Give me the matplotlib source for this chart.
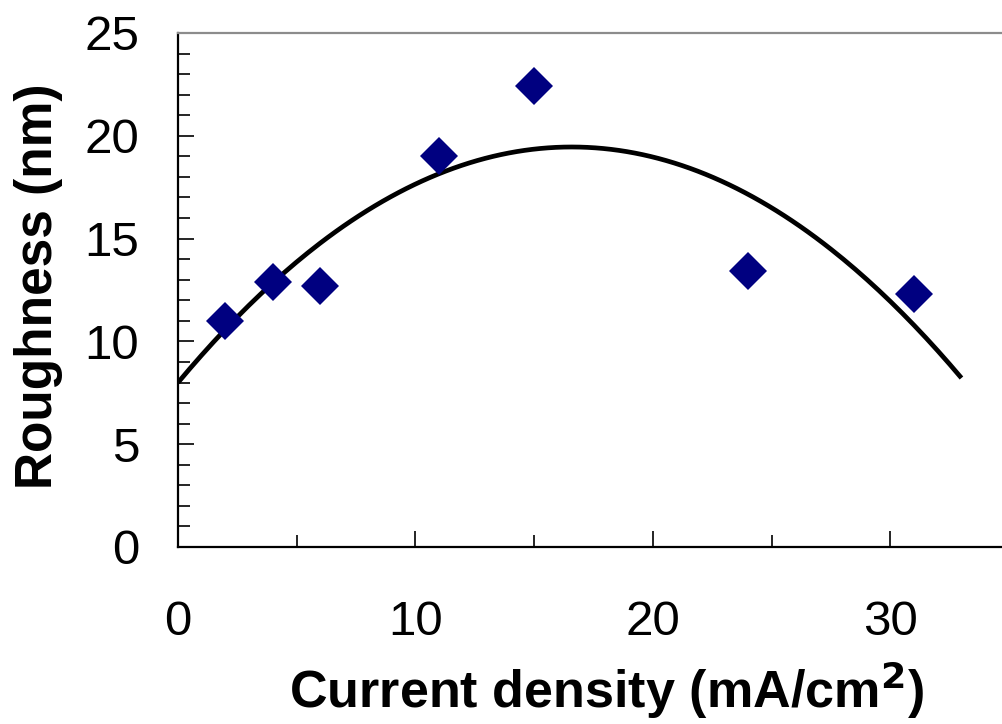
import numpy as np
import matplotlib
matplotlib.use("Agg")
import matplotlib.pyplot as plt
from matplotlib.ticker import MultipleLocator

# measured roughness vs current density
current = [2, 4, 6, 11, 15, 24, 31]
roughness = [11.0, 12.9, 12.7, 19.0, 22.4, 13.4, 12.3]

# 2nd order trendline, drawn over 0..33
coef = np.polyfit(current, roughness, 2)
xfit = np.linspace(0, 33, 200)
yfit = np.polyval(coef, xfit)

plt.rcParams['font.family'] = ['Liberation Sans', 'DejaVu Sans']

fig = plt.figure(figsize=(10.03, 7.24), dpi=100)
ax = fig.add_axes([178/1003, 1 - 547/724, 1 - 178/1003, (547 - 33)/724])

ax.plot(xfit, yfit, color='black', lw=3.4, solid_capstyle='butt', zorder=2)
ax.plot(current, roughness, 'D', color='#000080', ms=19, mew=0, zorder=3)

ax.set_xlim(0, 34.75)
ax.set_ylim(0, 25)

ax.xaxis.set_major_locator(MultipleLocator(10))
ax.xaxis.set_minor_locator(MultipleLocator(5))
ax.yaxis.set_major_locator(MultipleLocator(5))
ax.yaxis.set_minor_locator(MultipleLocator(1))

ax.tick_params(which='both', direction='in', width=1.2, labelsize=35.5, color='black')
ax.tick_params(which='major', length=11.5)
ax.tick_params(which='minor', length=8.5)
ax.tick_params(axis='y', which='major', pad=28)
ax.tick_params(axis='x', which='major', pad=38)

ax.spines['right'].set_visible(False)
ax.spines['top'].set_color('#8c8c8c')
ax.spines['top'].set_linewidth(1.6)
ax.spines['left'].set_linewidth(1.6)
ax.spines['bottom'].set_linewidth(1.6)

ax.set_xlabel(r'Current density (mA/cm$^\mathbf{2}$)', fontsize=37.5, fontweight='bold', labelpad=10)
ax.xaxis.label.set_x(0.519)
ax.set_ylabel('Roughness (nm)', fontsize=37, fontweight='bold', labelpad=15)
ax.yaxis.label.set_y(0.508)

fig.savefig('out.png', dpi=100)
